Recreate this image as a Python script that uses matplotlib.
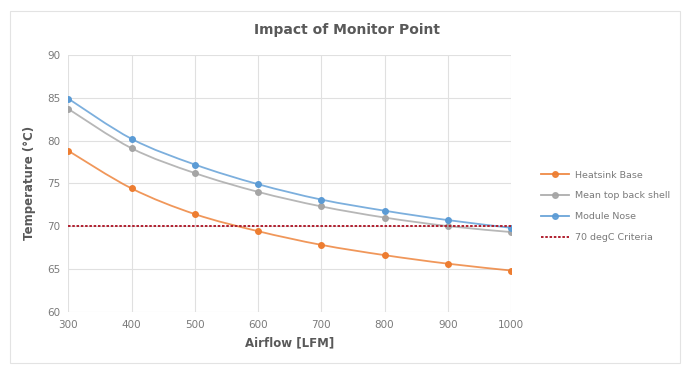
import numpy as np
import matplotlib.pyplot as plt
from matplotlib.path import Path
from matplotlib.patches import PathPatch, Rectangle
from matplotlib.lines import Line2D

airflow = [300, 400, 500, 600, 700, 800, 900, 1000]
heatsink_base = [78.8, 74.4, 71.4, 69.4, 67.8, 66.6, 65.6, 64.8]
mean_top_back_shell = [83.7, 79.1, 76.2, 74.0, 72.3, 71.0, 70.0, 69.3]
module_nose = [84.9, 80.2, 77.2, 74.9, 73.1, 71.8, 70.7, 69.8]
criteria = 70

series_names = ["Heatsink Base", "Mean top back shell", "Module Nose"]
series_colors = ["#ED7D31", "#A5A5A5", "#5B9BD5"]
criteria_name = "70 degC Criteria"
criteria_color = "#B02030"

TEXT = "#595959"
TICK = "#7A7A7A"


def smooth_path(x, y, tension=1 / 6):
    # Excel-style smoothed line as cubic bezier through the points
    x = np.asarray(x, float)
    y = np.asarray(y, float)
    verts = [(x[0], y[0])]
    codes = [Path.MOVETO]
    n = len(x)
    for i in range(n - 1):
        i0 = max(i - 1, 0)
        i3 = min(i + 2, n - 1)
        c1 = (x[i] + (x[i + 1] - x[i0]) * tension, y[i] + (y[i + 1] - y[i0]) * tension)
        c2 = (x[i + 1] - (x[i3] - x[i]) * tension, y[i + 1] - (y[i3] - y[i]) * tension)
        verts += [c1, c2, (x[i + 1], y[i + 1])]
        codes += [Path.CURVE4] * 3
    return Path(verts, codes)


fig = plt.figure(figsize=(6.84, 3.70), dpi=100)
ax = fig.add_axes([0.100, 0.158, 0.647, 0.693])

# chart border
fig.patches.append(Rectangle((0.015, 0.019), 0.979, 0.951, transform=fig.transFigure,
                             fill=False, edgecolor="#E3E3E3", linewidth=0.8))

handles = []
for vals, name, col in zip([heatsink_base, mean_top_back_shell, module_nose],
                           series_names, series_colors):
    ax.add_patch(PathPatch(smooth_path(airflow, vals), facecolor="none",
                           edgecolor=col, linewidth=1.3, alpha=0.8, zorder=3))
    ax.plot(airflow, vals, linestyle="none", marker="o", markersize=4,
            color=col, zorder=4)
    handles.append(Line2D([], [], color=col, linewidth=1.3, alpha=0.9, marker="o",
                          markersize=4, label=name))

ax.plot([airflow[0], airflow[-1]], [criteria, criteria], color=criteria_color,
        linewidth=1.4, dashes=(1.3, 0.9), zorder=5)
handles.append(Line2D([], [], color=criteria_color, linewidth=1.4,
                      dashes=(1.3, 0.9), label=criteria_name))

ax.set_xlim(300, 1000)
ax.set_ylim(60, 90)
ax.set_xticks(airflow)
ax.set_yticks(range(60, 91, 5))
ax.grid(True, color="#E0E0E0", linewidth=0.8)
ax.set_axisbelow(True)
for s in ax.spines.values():
    s.set_visible(False)
ax.tick_params(length=0, labelsize=7.5, labelcolor=TICK, pad=6)

ax.set_xlabel("Airflow [LFM]", fontsize=8.5, fontweight="bold", color=TEXT, labelpad=5)
ax.set_ylabel("Temperature (°C)", fontsize=8.5, fontweight="bold", color=TEXT, labelpad=8)
fig.text(0.507, 0.918, "Impact of Monitor Point", ha="center", va="center",
         fontsize=10, fontweight="bold", color=TEXT)

fig.legend(handles=handles, loc="upper left", bbox_to_anchor=(0.778, 0.562),
           frameon=False, fontsize=6.8, labelcolor=TICK, handlelength=3,
           labelspacing=1.25, handletextpad=0.6)

fig.savefig("out.png", dpi=100)
